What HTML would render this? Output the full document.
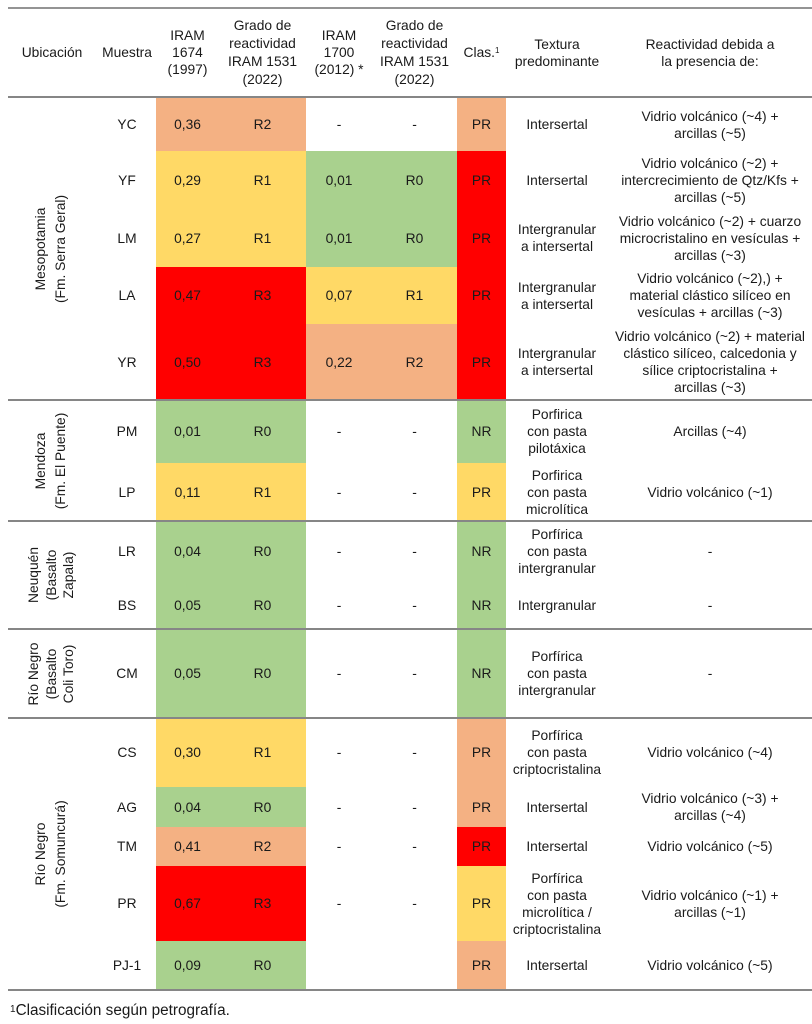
<!DOCTYPE html>
<html><head><meta charset="utf-8"><style>
html,body{margin:0;padding:0;background:#fff;}
body{width:812px;height:1024px;position:relative;overflow:hidden;font-family:"Liberation Sans",Arial,sans-serif;font-size:13.8px;color:#1a1a1a;}
.c{position:absolute;display:flex;align-items:center;justify-content:center;text-align:center;line-height:17px;}
.ln{position:absolute;left:8px;width:804px;height:2px;background:#868686;}
.rot{position:absolute;left:0;width:102px;}
.rot div{position:absolute;left:50%;top:50%;transform:translate(-50%,-50%) rotate(-90deg);white-space:nowrap;text-align:center;line-height:20px;}
.s{background:#F4B183}.y{background:#FFD966}.g{background:#A9D18E}.r{background:#FF0000}
sup{font-size:8px;vertical-align:top;position:relative;top:-2px;}
</style></head><body>

<!-- header -->
<div class="c" style="left:0;top:9px;width:104px;height:87px;">Ubicación</div>
<div class="c" style="left:98px;top:9px;width:58px;height:87px;">Muestra</div>
<div class="c" style="left:156px;top:9px;width:63px;height:87px;">IRAM<br>1674<br>(1997)</div>
<div class="c" style="left:219px;top:9px;width:87px;height:87px;line-height:18px;">Grado de<br>reactividad<br>IRAM 1531<br>(2022)</div>
<div class="c" style="left:306px;top:9px;width:66px;height:87px;">IRAM<br>1700<br>(2012) *</div>
<div class="c" style="left:372px;top:9px;width:85px;height:87px;line-height:18px;">Grado de<br>reactividad<br>IRAM 1531<br>(2022)</div>
<div class="c" style="left:457px;top:9px;width:49px;height:87px;">Clas.<sup>1</sup></div>
<div class="c" style="left:506px;top:9px;width:102px;height:87px;">Textura<br>predominante</div>
<div class="c" style="left:608px;top:9px;width:204px;height:87px;">Reactividad debida a<br>la presencia de:</div>

<!-- rotated group labels -->
<div class="rot" style="top:98px;height:302px;"><div>Mesopotamia<br>(Fm. Serra Geral)</div></div>
<div class="rot" style="top:400px;height:121px;"><div>Mendoza<br>(Fm. El Puente)</div></div>
<div class="rot" style="top:521px;height:108px;"><div style="line-height:17.5px;">Neuquén<br>(Basalto<br>Zapala)</div></div>
<div class="rot" style="top:629px;height:89px;"><div style="line-height:17.5px;">Río Negro<br>(Basalto<br>Coli Toro)</div></div>
<div class="rot" style="top:718px;height:272px;"><div>Río Negro<br>(Fm. Somuncurá)</div></div>

<!-- YC 98-151 -->
<div class="c" style="left:98px;top:98px;width:58px;height:53px;">YC</div>
<div class="c s" style="left:156px;top:98px;width:63px;height:53px;">0,36</div>
<div class="c s" style="left:219px;top:98px;width:87px;height:53px;">R2</div>
<div class="c" style="left:306px;top:98px;width:66px;height:53px;">-</div>
<div class="c" style="left:372px;top:98px;width:85px;height:53px;">-</div>
<div class="c s" style="left:457px;top:98px;width:49px;height:53px;">PR</div>
<div class="c" style="left:506px;top:98px;width:102px;height:53px;">Intersertal</div>
<div class="c" style="left:608px;top:98px;width:204px;height:53px;">Vidrio volcánico (~4) +<br>arcillas (~5)</div>

<!-- YF 151-209 -->
<div class="c" style="left:98px;top:151px;width:58px;height:58px;">YF</div>
<div class="c y" style="left:156px;top:151px;width:63px;height:58px;">0,29</div>
<div class="c y" style="left:219px;top:151px;width:87px;height:58px;">R1</div>
<div class="c g" style="left:306px;top:151px;width:66px;height:58px;">0,01</div>
<div class="c g" style="left:372px;top:151px;width:85px;height:58px;">R0</div>
<div class="c r" style="left:457px;top:151px;width:49px;height:58px;">PR</div>
<div class="c" style="left:506px;top:151px;width:102px;height:58px;">Intersertal</div>
<div class="c" style="left:608px;top:151px;width:204px;height:58px;">Vidrio volcánico (~2) +<br>intercrecimiento de Qtz/Kfs +<br>arcillas (~5)</div>

<!-- LM 209-267 -->
<div class="c" style="left:98px;top:209px;width:58px;height:58px;">LM</div>
<div class="c y" style="left:156px;top:209px;width:63px;height:58px;">0,27</div>
<div class="c y" style="left:219px;top:209px;width:87px;height:58px;">R1</div>
<div class="c g" style="left:306px;top:209px;width:66px;height:58px;">0,01</div>
<div class="c g" style="left:372px;top:209px;width:85px;height:58px;">R0</div>
<div class="c r" style="left:457px;top:209px;width:49px;height:58px;">PR</div>
<div class="c" style="left:506px;top:209px;width:102px;height:58px;">Intergranular<br>a intersertal</div>
<div class="c" style="left:608px;top:209px;width:204px;height:58px;">Vidrio volcánico (~2) + cuarzo<br>microcristalino en vesículas +<br>arcillas (~3)</div>

<!-- LA 267-324 -->
<div class="c" style="left:98px;top:267px;width:58px;height:57px;">LA</div>
<div class="c r" style="left:156px;top:267px;width:63px;height:57px;">0,47</div>
<div class="c r" style="left:219px;top:267px;width:87px;height:57px;">R3</div>
<div class="c y" style="left:306px;top:267px;width:66px;height:57px;">0,07</div>
<div class="c y" style="left:372px;top:267px;width:85px;height:57px;">R1</div>
<div class="c r" style="left:457px;top:267px;width:49px;height:57px;">PR</div>
<div class="c" style="left:506px;top:267px;width:102px;height:57px;">Intergranular<br>a intersertal</div>
<div class="c" style="left:608px;top:267px;width:204px;height:57px;">Vidrio volcánico (~2),) +<br>material clástico silíceo en<br>vesículas + arcillas (~3)</div>

<!-- YR 324-400 -->
<div class="c" style="left:98px;top:324px;width:58px;height:76px;">YR</div>
<div class="c r" style="left:156px;top:324px;width:63px;height:76px;">0,50</div>
<div class="c r" style="left:219px;top:324px;width:87px;height:76px;">R3</div>
<div class="c s" style="left:306px;top:324px;width:66px;height:76px;">0,22</div>
<div class="c s" style="left:372px;top:324px;width:85px;height:76px;">R2</div>
<div class="c r" style="left:457px;top:324px;width:49px;height:76px;">PR</div>
<div class="c" style="left:506px;top:324px;width:102px;height:76px;">Intergranular<br>a intersertal</div>
<div class="c" style="left:608px;top:324px;width:204px;height:76px;">Vidrio volcánico (~2) + material<br>clástico silíceo, calcedonia y<br>sílice criptocristalina +<br>arcillas (~3)</div>

<!-- PM 400-463 -->
<div class="c" style="left:98px;top:400px;width:58px;height:63px;">PM</div>
<div class="c g" style="left:156px;top:400px;width:63px;height:63px;">0,01</div>
<div class="c g" style="left:219px;top:400px;width:87px;height:63px;">R0</div>
<div class="c" style="left:306px;top:400px;width:66px;height:63px;">-</div>
<div class="c" style="left:372px;top:400px;width:85px;height:63px;">-</div>
<div class="c g" style="left:457px;top:400px;width:49px;height:63px;">NR</div>
<div class="c" style="left:506px;top:400px;width:102px;height:63px;">Porfirica<br>con pasta<br>pilotáxica</div>
<div class="c" style="left:608px;top:400px;width:204px;height:63px;">Arcillas (~4)</div>

<!-- LP 463-521 -->
<div class="c" style="left:98px;top:463px;width:58px;height:58px;">LP</div>
<div class="c y" style="left:156px;top:463px;width:63px;height:58px;">0,11</div>
<div class="c y" style="left:219px;top:463px;width:87px;height:58px;">R1</div>
<div class="c" style="left:306px;top:463px;width:66px;height:58px;">-</div>
<div class="c" style="left:372px;top:463px;width:85px;height:58px;">-</div>
<div class="c y" style="left:457px;top:463px;width:49px;height:58px;">PR</div>
<div class="c" style="left:506px;top:463px;width:102px;height:58px;">Porfirica<br>con pasta<br>microlítica</div>
<div class="c" style="left:608px;top:463px;width:204px;height:58px;">Vidrio volcánico (~1)</div>

<!-- LR 521-580 -->
<div class="c" style="left:98px;top:521px;width:58px;height:60px;">LR</div>
<div class="c g" style="left:156px;top:521px;width:63px;height:60px;">0,04</div>
<div class="c g" style="left:219px;top:521px;width:87px;height:60px;">R0</div>
<div class="c" style="left:306px;top:521px;width:66px;height:60px;">-</div>
<div class="c" style="left:372px;top:521px;width:85px;height:60px;">-</div>
<div class="c g" style="left:457px;top:521px;width:49px;height:60px;">NR</div>
<div class="c" style="left:506px;top:521px;width:102px;height:60px;">Porfírica<br>con pasta<br>intergranular</div>
<div class="c" style="left:608px;top:521px;width:204px;height:60px;">-</div>

<!-- BS 581-629 -->
<div class="c" style="left:98px;top:581px;width:58px;height:48px;">BS</div>
<div class="c g" style="left:156px;top:581px;width:63px;height:48px;">0,05</div>
<div class="c g" style="left:219px;top:581px;width:87px;height:48px;">R0</div>
<div class="c" style="left:306px;top:581px;width:66px;height:48px;">-</div>
<div class="c" style="left:372px;top:581px;width:85px;height:48px;">-</div>
<div class="c g" style="left:457px;top:581px;width:49px;height:48px;">NR</div>
<div class="c" style="left:506px;top:581px;width:102px;height:48px;">Intergranular</div>
<div class="c" style="left:608px;top:581px;width:204px;height:48px;">-</div>

<!-- CM 629-718 -->
<div class="c" style="left:98px;top:629px;width:58px;height:89px;">CM</div>
<div class="c g" style="left:156px;top:629px;width:63px;height:89px;">0,05</div>
<div class="c g" style="left:219px;top:629px;width:87px;height:89px;">R0</div>
<div class="c" style="left:306px;top:629px;width:66px;height:89px;">-</div>
<div class="c" style="left:372px;top:629px;width:85px;height:89px;">-</div>
<div class="c g" style="left:457px;top:629px;width:49px;height:89px;">NR</div>
<div class="c" style="left:506px;top:629px;width:102px;height:89px;">Porfírica<br>con pasta<br>intergranular</div>
<div class="c" style="left:608px;top:629px;width:204px;height:89px;">-</div>

<!-- CS 718-787 -->
<div class="c" style="left:98px;top:718px;width:58px;height:69px;">CS</div>
<div class="c y" style="left:156px;top:718px;width:63px;height:69px;">0,30</div>
<div class="c y" style="left:219px;top:718px;width:87px;height:69px;">R1</div>
<div class="c" style="left:306px;top:718px;width:66px;height:69px;">-</div>
<div class="c" style="left:372px;top:718px;width:85px;height:69px;">-</div>
<div class="c s" style="left:457px;top:718px;width:49px;height:69px;">PR</div>
<div class="c" style="left:506px;top:718px;width:102px;height:69px;">Porfírica<br>con pasta<br>criptocristalina</div>
<div class="c" style="left:608px;top:718px;width:204px;height:69px;">Vidrio volcánico (~4)</div>

<!-- AG 787-827 -->
<div class="c" style="left:98px;top:787px;width:58px;height:40px;">AG</div>
<div class="c g" style="left:156px;top:787px;width:63px;height:40px;">0,04</div>
<div class="c g" style="left:219px;top:787px;width:87px;height:40px;">R0</div>
<div class="c" style="left:306px;top:787px;width:66px;height:40px;">-</div>
<div class="c" style="left:372px;top:787px;width:85px;height:40px;">-</div>
<div class="c s" style="left:457px;top:787px;width:49px;height:40px;">PR</div>
<div class="c" style="left:506px;top:787px;width:102px;height:40px;">Intersertal</div>
<div class="c" style="left:608px;top:787px;width:204px;height:40px;">Vidrio volcánico (~3) +<br>arcillas (~4)</div>

<!-- TM 827-866 -->
<div class="c" style="left:98px;top:827px;width:58px;height:39px;">TM</div>
<div class="c s" style="left:156px;top:827px;width:63px;height:39px;">0,41</div>
<div class="c s" style="left:219px;top:827px;width:87px;height:39px;">R2</div>
<div class="c" style="left:306px;top:827px;width:66px;height:39px;">-</div>
<div class="c" style="left:372px;top:827px;width:85px;height:39px;">-</div>
<div class="c r" style="left:457px;top:827px;width:49px;height:39px;">PR</div>
<div class="c" style="left:506px;top:827px;width:102px;height:39px;">Intersertal</div>
<div class="c" style="left:608px;top:827px;width:204px;height:39px;">Vidrio volcánico (~5)</div>

<!-- PR 866-941 -->
<div class="c" style="left:98px;top:866px;width:58px;height:75px;">PR</div>
<div class="c r" style="left:156px;top:866px;width:63px;height:75px;">0,67</div>
<div class="c r" style="left:219px;top:866px;width:87px;height:75px;">R3</div>
<div class="c" style="left:306px;top:866px;width:66px;height:75px;">-</div>
<div class="c" style="left:372px;top:866px;width:85px;height:75px;">-</div>
<div class="c y" style="left:457px;top:866px;width:49px;height:75px;">PR</div>
<div class="c" style="left:506px;top:866px;width:102px;height:75px;">Porfírica<br>con pasta<br>microlítica /<br>criptocristalina</div>
<div class="c" style="left:608px;top:866px;width:204px;height:75px;">Vidrio volcánico (~1) +<br>arcillas (~1)</div>

<!-- PJ-1 941-990 -->
<div class="c" style="left:98px;top:941px;width:58px;height:49px;">PJ-1</div>
<div class="c g" style="left:156px;top:941px;width:63px;height:49px;">0,09</div>
<div class="c g" style="left:219px;top:941px;width:87px;height:49px;">R0</div>
<div class="c s" style="left:457px;top:941px;width:49px;height:49px;">PR</div>
<div class="c" style="left:506px;top:941px;width:102px;height:49px;">Intersertal</div>
<div class="c" style="left:608px;top:941px;width:204px;height:49px;">Vidrio volcánico (~5)</div>

<!-- lines -->
<div class="ln" style="top:7px;background:#949494;"></div>
<div class="ln" style="top:96px;"></div>
<div class="ln" style="top:399px;"></div>
<div class="ln" style="top:520px;"></div>
<div class="ln" style="top:628px;"></div>
<div class="ln" style="top:717px;"></div>
<div class="ln" style="top:989px;"></div>

<!-- footnote -->
<div style="position:absolute;left:10px;top:1001px;font-size:15.3px;line-height:20px;white-space:nowrap;"><sup style="font-size:10px;top:-1px;">1</sup>Clasificación según petrografía.</div>

</body></html>
